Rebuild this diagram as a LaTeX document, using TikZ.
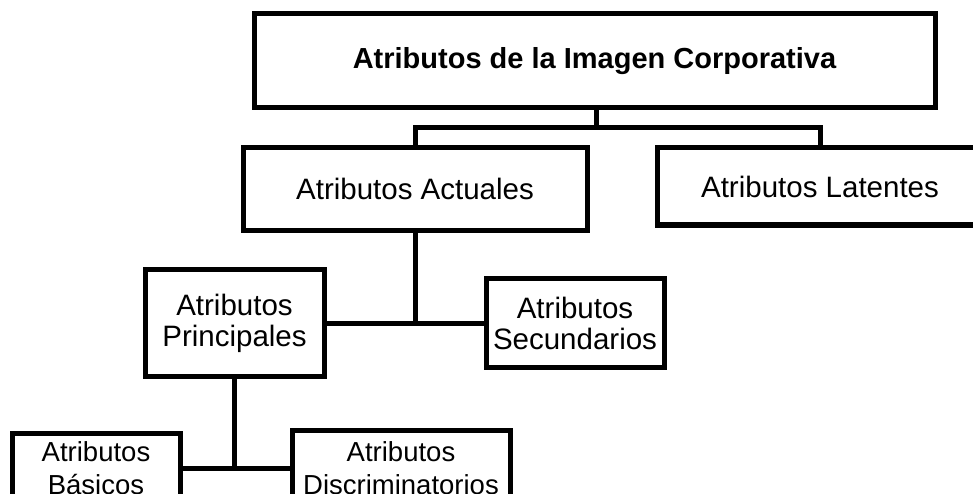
\documentclass[tikz,border=0pt]{standalone}
\usepackage{fontspec}
\setmainfont{Liberation Sans}
\begin{document}
\begin{tikzpicture}[x=1pt,y=-1pt,
  box/.style={draw=black,line width=5pt,rectangle,inner sep=0pt,align=center,fill=white},
  midtext/.style={font=\fontsize{29.5}{31}\selectfont},
  smalltext/.style={font=\fontsize{27.5}{33}\selectfont},
  conn/.style={draw=black,line width=5pt,line cap=rect}]
\clip (0,0) rectangle (973,494);
\useasboundingbox (0,0) rectangle (973,494);
\fill[white] (0,0) rectangle (973,494);
\node[box,minimum width=681pt,minimum height=94pt,font=\bfseries\fontsize{29}{33}\selectfont] (top) at (594.5,61) {Atributos de la Imagen Corporativa};
\node[box,midtext,minimum width=344pt,minimum height=82pt] (act) at (415,189) {Atributos Actuales};
\node[box,midtext,minimum width=326pt,minimum height=77pt] (lat) at (820,186.5) {Atributos Latentes};
\node[box,midtext,minimum width=179pt,minimum height=107pt] (pri) at (234.5,323) {Atributos\\Principales};
\node[box,midtext,minimum width=178pt,minimum height=89pt] (sec) at (575,323) {Atributos\\Secundarios};
\node[box,smalltext,minimum width=168pt,minimum height=70pt] (bas) at (96,468) {Atributos\\Básicos};
\node[box,smalltext,minimum width=218pt,minimum height=76pt] (dis) at (401,468) {Atributos\\Discriminatorios};
\coordinate (j1) at (596,128);
\draw[conn] (top.south -| j1) -- (j1);
\draw[conn] (act.north) |- (j1) -| (lat.north);
\draw[conn] (act.south) -- (act.south |- pri.east);
\draw[conn] (pri.east) -- (sec.west);
\draw[conn] (pri.south) -- (pri.south |- bas.east);
\draw[conn] (bas.east) -- (dis.west);
\end{tikzpicture}
\end{document}
